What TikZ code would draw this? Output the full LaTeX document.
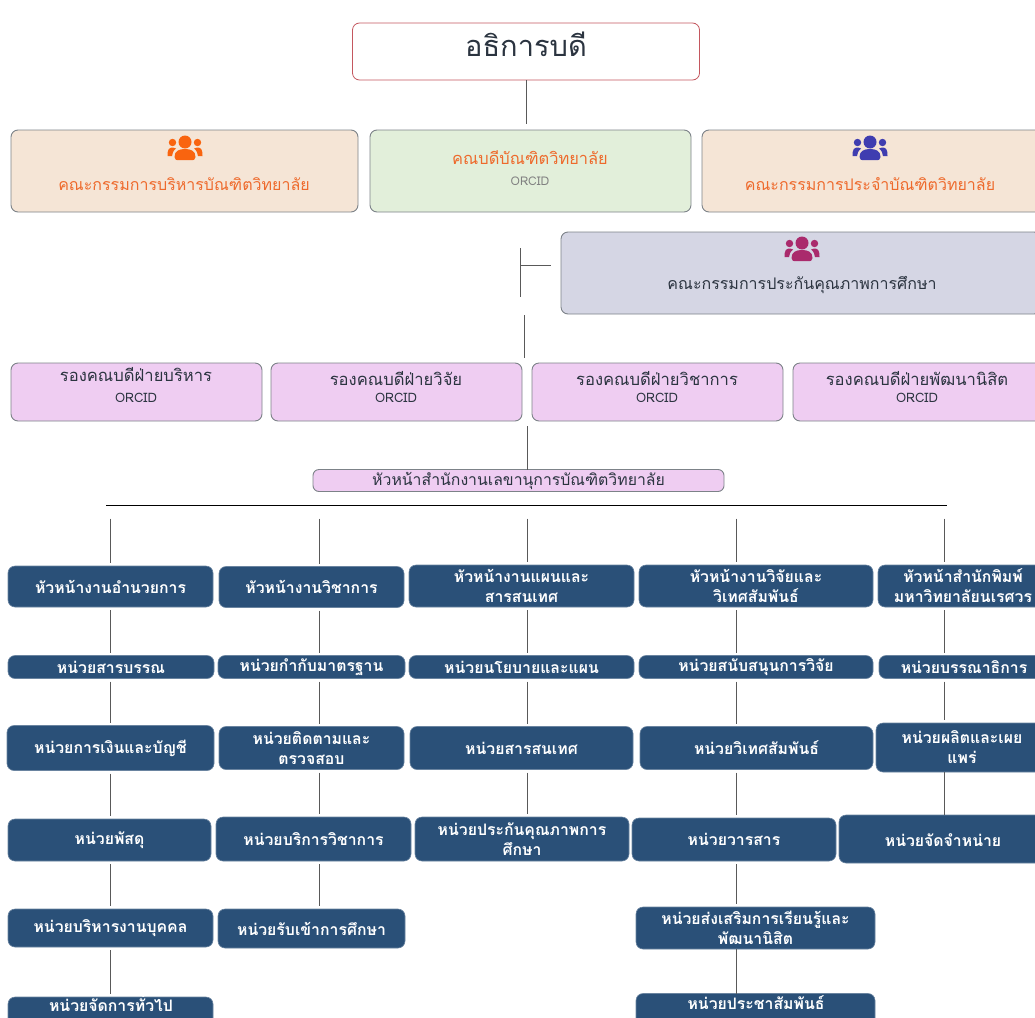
\documentclass[tikz,border=0pt]{standalone}
\usepackage{fontspec}
\newfontfamily\thaifont[Script=Thai]{Loma}
\usetikzlibrary{calc}
\definecolor{navybox}{HTML}{2A5078}
\definecolor{tanbox}{HTML}{F5E5D6}
\definecolor{greenbox}{HTML}{E2EFDA}
\definecolor{pinkbox}{HTML}{EFCDF2}
\definecolor{greybox}{HTML}{D5D6E4}
\definecolor{orangetext}{HTML}{EE6A2C}
\definecolor{titleline}{HTML}{C4575F}
\definecolor{inktext}{HTML}{2B3440}
\definecolor{boardline}{HTML}{7C8288}
\definecolor{iconorange}{HTML}{F9640F}
\definecolor{iconblue}{HTML}{3F3DB0}
\definecolor{iconplum}{HTML}{AA2A6C}
\tikzset{every node/.style={inner sep=0pt, outer sep=0pt, align=center, text=inktext},
  board/.style={draw=boardline, line width=0.9pt, rounded corners=7pt},
  deputy/.style={board, fill=pinkbox, font=\thaifont\fontsize{15.8}{21}\selectfont},
  unit/.style={fill=navybox, draw=navybox!70!white, line width=0.6pt, rounded corners=7pt, text=white, font=\thaifont\bfseries\fontsize{15.8}{20}\selectfont},
  caption/.style={font=\thaifont\fontsize{16}{18}\selectfont, text=orangetext},
  orcid/.style={font=\thaifont\fontsize{13}{15}\selectfont},
  deptext/.style={font=\thaifont\fontsize{16.6}{18}\selectfont},
  link/.style={draw=black!65, line width=0.7pt},
  pics/people/.style={code={
    \fill[pic actions] (-12.5,-6.5) circle (3.7) (12.5,-6.5) circle (3.7);
    \fill[pic actions] (0,-7) circle (6.5);
    \fill[pic actions] (-17.5,7) .. controls (-17.5,0) and (-16,-1.5) .. (-12,-1.5) -- (-9,-0.5) .. controls (-12,2) and (-12.5,4) .. (-13,7) -- cycle;
    \fill[pic actions] (17.5,7) .. controls (17.5,0) and (16,-1.5) .. (12,-1.5) -- (9,-0.5) .. controls (12,2) and (12.5,4) .. (13,7) -- cycle;
    \fill[pic actions] (-10.5,8) .. controls (-10.5,2) and (-6,0) .. (0,0) .. controls (6,0) and (10.5,2) .. (10.5,8) .. controls (10.5,11) and (8,11) .. (8,11) -- (-8,11) .. controls (-8,11) and (-10.5,11) .. cycle;
  }}}
\begin{document}
\begin{tikzpicture}[x=1pt,y=-1pt]
   \useasboundingbox (0,0) rectangle (1035,1017);
   \clip (0,0) rectangle (1035,1017);
   % top of the chart
   \node[draw=titleline, fill=white, line width=0.8pt, rounded corners=7pt, minimum width=347pt, minimum height=57pt] (dean) at (526,51.5) {};
   \node[font=\thaifont\fontsize{29}{32}\selectfont] (deantext) at (526,44) {อธิการบดี};
   \node[board, fill=tanbox, minimum width=347pt, minimum height=82pt] (boardA) at (184.5,171) {};
   \node[board, fill=greenbox, minimum width=321pt, minimum height=82pt] (boardB) at (530.5,171) {};
   \node[board, fill=tanbox, minimum width=340pt, minimum height=82pt] (boardC) at (872,171) {};
   \node[board, fill=greybox, minimum width=480pt, minimum height=82pt] (boardD) at (801,273) {};
   \pic[fill=iconorange] at (185,149) {people};
   \pic[fill=iconblue] at (870,149) {people};
   \pic[fill=iconplum] at (802,250) {people};
   \node[caption] (boardAtext) at (184,184) {คณะกรรมการบริหารบัณฑิตวิทยาลัย};
   \node[caption, font=\thaifont\fontsize{16.4}{18}\selectfont] (boardBtext) at (530,158) {คณบดีบัณฑิตวิทยาลัย};
   \node[orcid, text=gray, font=\thaifont\fontsize{12}{15}\selectfont] (boardBorcid) at (530,181) {ORCID};
   \node[caption] (boardCtext) at (870,184) {คณะกรรมการประจำบัณฑิตวิทยาลัย};
   \node[caption, text=inktext] (boardDtext) at (802,285) {คณะกรรมการประกันคุณภาพการศึกษา};
   % deputies
   \node[deputy, minimum width=251pt, minimum height=58pt] (depA) at (136.5,392) {};
   \node[deputy, minimum width=251pt, minimum height=58pt] (depB) at (396.5,392) {};
   \node[deputy, minimum width=251pt, minimum height=58pt] (depC) at (657.5,392) {};
   \node[deputy, minimum width=251pt, minimum height=58pt] (depD) at (918.5,392) {};
   \node[deptext] (depAtext) at (136,375) {รองคณบดีฝ่ายบริหาร};
   \node[deptext] (depBtext) at (396,379) {รองคณบดีฝ่ายวิจัย};
   \node[deptext] (depCtext) at (657,379) {รองคณบดีฝ่ายวิชาการ};
   \node[deptext] (depDtext) at (917,379) {รองคณบดีฝ่ายพัฒนานิสิต};
   \node[orcid] (depAorcid) at (136,398) {ORCID};
   \node[orcid] (depBorcid) at (396,398) {ORCID};
   \node[orcid] (depCorcid) at (657,398) {ORCID};
   \node[orcid] (depDorcid) at (917,398) {ORCID};
   \node[deputy, minimum width=411pt, minimum height=22pt, rounded corners=6pt] (office) at (518.5,480.5) {หัวหน้าสำนักงานเลขานุการบัณฑิตวิทยาลัย};
   % column one
   \node[unit, minimum width=205pt, minimum height=41pt] (headA) at (110.5,586.5) {หัวหน้างานอำนวยการ};
   \node[unit, minimum width=206pt, minimum height=23pt] (unitAa) at (111,667) {หน่วยสารบรรณ};
   \node[unit, minimum width=207pt, minimum height=45pt] (unitAb) at (110.5,748) {หน่วยการเงินและบัญชี};
   \node[unit, minimum width=203pt, minimum height=42pt] (unitAc) at (109.5,840) {หน่วยพัสดุ};
   \node[unit, minimum width=205pt, minimum height=38pt] (unitAd) at (110.5,928) {หน่วยบริหารงานบุคคล};
   \node[unit, minimum width=205pt, minimum height=40pt, anchor=north] (unitAe) at (110.5,997) {};
   \node[unit, fill=none, draw=none] (unitAetext) at (111,1003) {หน่วยจัดการทั่วไป};
   % column two
   \node[unit, minimum width=185pt, minimum height=41pt] (headB) at (311.5,587) {หัวหน้างานวิชาการ};
   \node[unit, minimum width=187pt, minimum height=23pt] (unitBa) at (311.5,667) {หน่วยกำกับมาตรฐาน};
   \node[unit, minimum width=185pt, minimum height=43pt] (unitBb) at (311.5,748) {หน่วยติดตามและ\\ตรวจสอบ};
   \node[unit, minimum width=195pt, minimum height=44pt] (unitBc) at (313.5,839) {หน่วยบริการวิชาการ};
   \node[unit, minimum width=187pt, minimum height=39pt] (unitBd) at (311.5,928.5) {หน่วยรับเข้าการศึกษา};
   % column three
   \node[unit, minimum width=225pt, minimum height=42pt] (headC) at (521.5,586) {หัวหน้างานแผนและ\\สารสนเทศ};
   \node[unit, minimum width=225pt, minimum height=23pt] (unitCa) at (521.5,667) {หน่วยนโยบายและแผน};
   \node[unit, minimum width=223pt, minimum height=43pt] (unitCb) at (521.5,748) {หน่วยสารสนเทศ};
   \node[unit, minimum width=214pt, minimum height=44pt] (unitCc) at (522,839) {หน่วยประกันคุณภาพการ\\ศึกษา};
   % column four
   \node[unit, minimum width=234pt, minimum height=42pt] (headD) at (756,586) {หัวหน้างานวิจัยและ\\วิเทศสัมพันธ์};
   \node[unit, minimum width=234pt, minimum height=23pt] (unitDa) at (756,667) {หน่วยสนับสนุนการวิจัย};
   \node[unit, minimum width=233pt, minimum height=43pt] (unitDb) at (756.5,748) {หน่วยวิเทศสัมพันธ์};
   \node[unit, minimum width=204pt, minimum height=43pt] (unitDc) at (734,839.5) {หน่วยวารสาร};
   \node[unit, minimum width=239pt, minimum height=42pt] (unitDd) at (755.5,928) {หน่วยส่งเสริมการเรียนรู้และ\\พัฒนานิสิต};
   \node[unit, minimum width=239pt, minimum height=40pt, anchor=north] (unitDe) at (755.5,993.5) {};
   \node[unit, fill=none, draw=none] (unitDetext) at (756,1003) {หน่วยประชาสัมพันธ์};
   % column five
   \node[unit, minimum width=170pt, minimum height=42pt] (headE) at (963,586) {หัวหน้าสำนักพิมพ์\\มหาวิทยาลัยนเรศวร};
   \node[unit, minimum width=170pt, minimum height=23pt] (unitEa) at (964,667) {หน่วยบรรณาธิการ};
   \node[unit, minimum width=172pt, minimum height=49pt] (unitEb) at (962,747.5) {หน่วยผลิตและเผย\\แพร่};
   \node[unit, minimum width=205pt, minimum height=48pt] (unitEc) at (941.5,839) {};
   \node[unit, fill=none, draw=none] (unitEctext) at (943,840) {หน่วยจัดจำหน่าย};
   % guide lines of the connectors
   \coordinate (colA) at (110.5,505.5);
   \coordinate (colB) at (319,505.5);
   \coordinate (colC) at (527.5,505.5);
   \coordinate (colD) at (736.5,505.5);
   \coordinate (colE) at (944.5,505.5);
   \coordinate (ruleL) at (106,505.5);
   \coordinate (ruleR) at (947,505.5);
   \coordinate (bracketT) at (520.5,248);
   \coordinate (bracketB) at (520.5,297);
   \coordinate (bracketM) at (520.5,265.5);
   \coordinate (stemB) at (524.5,315);
   \coordinate (stemC) at (524.5,358);
   \coordinate (stemA) at (526.5,124);
   \coordinate (stemD) at (527.5,426);
   \draw[link] (dean.south -| stemA) -- (stemA);
   \draw[link] (bracketT) -- (bracketB);
   \draw[link, shorten >=10pt] (bracketM) -- (boardD.west |- bracketM);
   \draw[link] (stemB) -- (stemC);
   \draw[link] (stemD) -- (office.north -| stemD);
   \draw[black, line width=0.9pt] (ruleL) -- (ruleR);
   \tikzset{gapped/.style={link, shorten <=#1, shorten >=3pt}}
   \draw[gapped=13pt] (colA) -- (colA |- headA.north);
   \draw[gapped=13pt] (colB) -- (colB |- headB.north);
   \draw[gapped=13pt] (colC) -- (colC |- headC.north);
   \draw[gapped=13pt] (colD) -- (colD |- headD.north);
   \draw[gapped=13pt] (colE) -- (colE |- headE.north);
   \draw[gapped=3pt] (colA |- headA.south) -- (colA |- unitAa.north);
   \draw[gapped=3pt] (colA |- unitAa.south) -- (colA |- unitAb.north);
   \draw[gapped=3pt] (colA |- unitAb.south) -- (colA |- unitAc.north);
   \draw[gapped=3pt] (colA |- unitAc.south) -- (colA |- unitAd.north);
   \draw[gapped=3pt] (colA |- unitAd.south) -- (colA |- unitAe.north);
   \draw[gapped=3pt] (colB |- headB.south) -- (colB |- unitBa.north);
   \draw[gapped=3pt] (colB |- unitBa.south) -- (colB |- unitBb.north);
   \draw[gapped=3pt] (colB |- unitBb.south) -- (colB |- unitBc.north);
   \draw[gapped=3pt] (colB |- unitBc.south) -- (colB |- unitBd.north);
   \draw[gapped=3pt] (colC |- headC.south) -- (colC |- unitCa.north);
   \draw[gapped=3pt] (colC |- unitCa.south) -- (colC |- unitCb.north);
   \draw[gapped=3pt] (colC |- unitCb.south) -- (colC |- unitCc.north);
   \draw[gapped=3pt] (colD |- headD.south) -- (colD |- unitDa.north);
   \draw[gapped=3pt] (colD |- unitDa.south) -- (colD |- unitDb.north);
   \draw[gapped=3pt] (colD |- unitDb.south) -- (colD |- unitDc.north);
   \draw[gapped=3pt] (colD |- unitDc.south) -- (colD |- unitDd.north);
   \draw[link] (colD |- unitDd.south) -- (colD |- unitDe.north);
   \draw[gapped=3pt] (colE |- headE.south) -- (colE |- unitEa.north);
   \draw[gapped=3pt] (colE |- unitEa.south) -- (colE |- unitEb.north);
   \draw[link] (colE |- unitEb.south) -- (colE |- unitEc.north);
  \end{tikzpicture}
\end{document}
